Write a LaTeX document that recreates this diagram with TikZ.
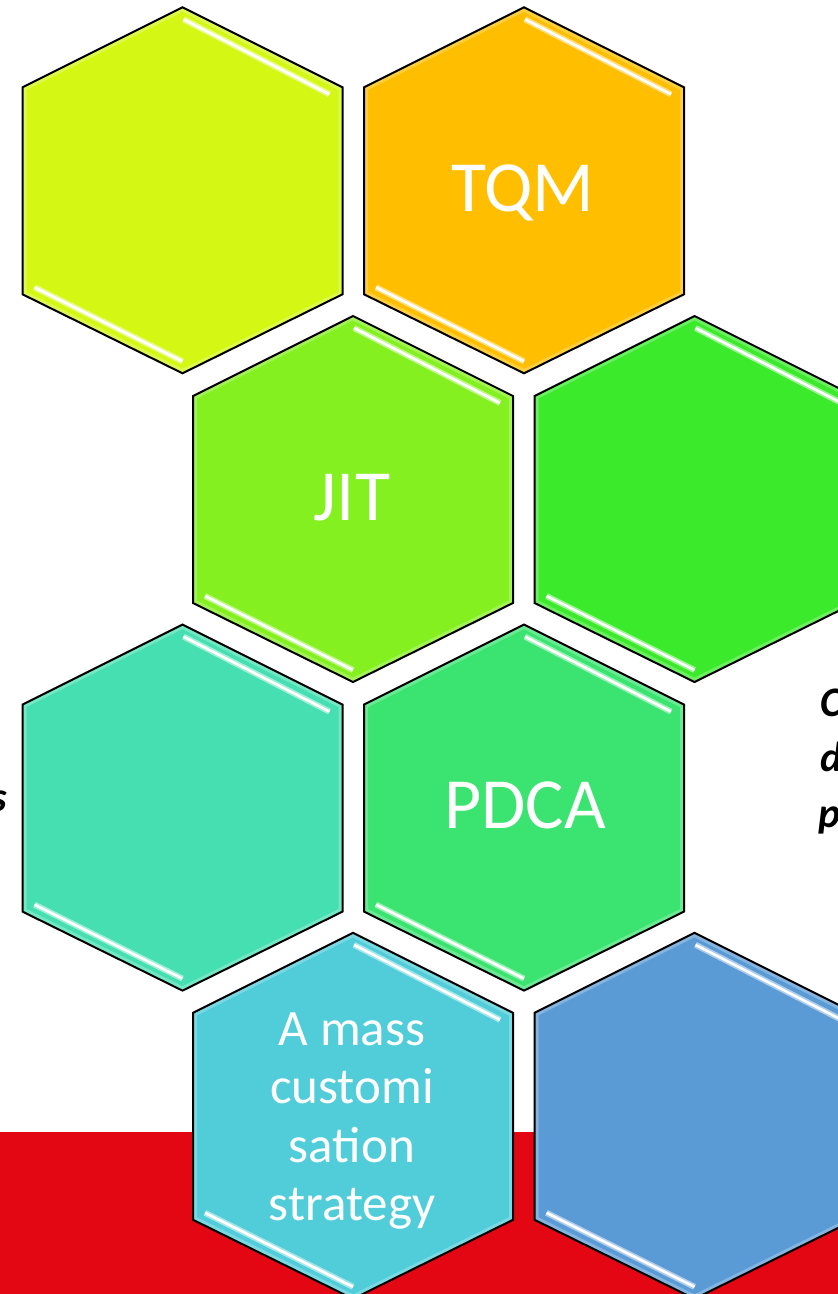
\documentclass[tikz,border=0pt]{standalone}
\usepackage{fontspec}
\setmainfont{Carlito}

\definecolor{hexlime}{HTML}{D4F713}
\definecolor{hexorange}{HTML}{FFBF00}
\definecolor{hexjit}{HTML}{84F01F}
\definecolor{hexgreen}{HTML}{3BEA2B}
\definecolor{hexteal}{HTML}{46DFB1}
\definecolor{hexpdca}{HTML}{3BE470}
\definecolor{hexcyan}{HTML}{50CDD9}
\definecolor{hexblue}{HTML}{5B9BD5}
\definecolor{bandred}{HTML}{E30613}

% one cell, drawn round the current origin
\def\hexpath{(0,-183) -- (160,-103) -- (160,104) -- (0,183) -- (-160,104) -- (-160,-103) -- cycle}

\tikzset{
	hexborder/.style={draw=black, line width=2pt, line join=miter},
	hexglow/.style={white, opacity=0.5, line width=6pt},
	hexshine/.style={white, line width=2.6pt},
	hexlabel/.style={text=white, inner sep=0pt, font=\fontsize{72}{86}\selectfont},
	sidetext/.style={text=black, inner sep=0pt, font=\fontsize{42}{50}\selectfont\bfseries\itshape}
}

\begin{document}
\begin{tikzpicture}[x=1pt,y=-1pt]
		\useasboundingbox (0,0) rectangle (838,1294);
		\fill[white] (0,0) rectangle (838,1294);
		% red band at the foot
		\fill[bandred] (0,1132.3) rectangle (838,1294);

		% honeycomb
		\foreach \name/\cx/\cy/\col in {lime/182.5/190.3/hexlime, tqm/524/190.3/hexorange,
			jit/353/499/hexjit, green/694.5/499/hexgreen,
			teal/182.5/807.6/hexteal, pdca/524/807.6/hexpdca,
			mass/353/1115.8/hexcyan, blue/694.5/1115.8/hexblue} {
			\begin{scope}[shift={(\cx,\cy)}]
				\coordinate (\name) at (0,0);
				\fill[\col] \hexpath;
				\begin{scope}
					\clip \hexpath;
					\draw[white, opacity=0.25, line width=8pt] \hexpath;
				\end{scope}
				\draw[hexglow] (1,-171) -- (147,-96);
				\draw[hexshine] (1,-171) -- (147,-96);
				\draw[hexglow] (-148,97) -- (0,171);
				\draw[hexshine] (-148,97) -- (0,171);
				\draw[hexborder] \hexpath;
			\end{scope}
		}

		% Labels
		\node[hexlabel, anchor=base] (tqmtext) at (523,211.7) {TQM};
		\node[hexlabel, anchor=base] (jittext) at (352,520.7) {JIT};
		\node[hexlabel, anchor=base] (pdcatext) at (525,828.3) {PDCA};
		\node[hexlabel, anchor=center, align=center, font=\fontsize{51}{58.5}\selectfont] (masstext) at (352,1120.8) {A mass\\customi\\sation\\strategy};

		% cut-off side texts
		\node[sidetext, anchor=base east] (lefts) at (7.5,811) {s};
		\node[sidetext, anchor=base west] (rightc) at (820,716) {C};
		\node[sidetext, anchor=base west] (rightd) at (820,771) {d};
		\node[sidetext, anchor=base west] (rightp) at (818,827) {p};
	\end{tikzpicture}
\end{document}
